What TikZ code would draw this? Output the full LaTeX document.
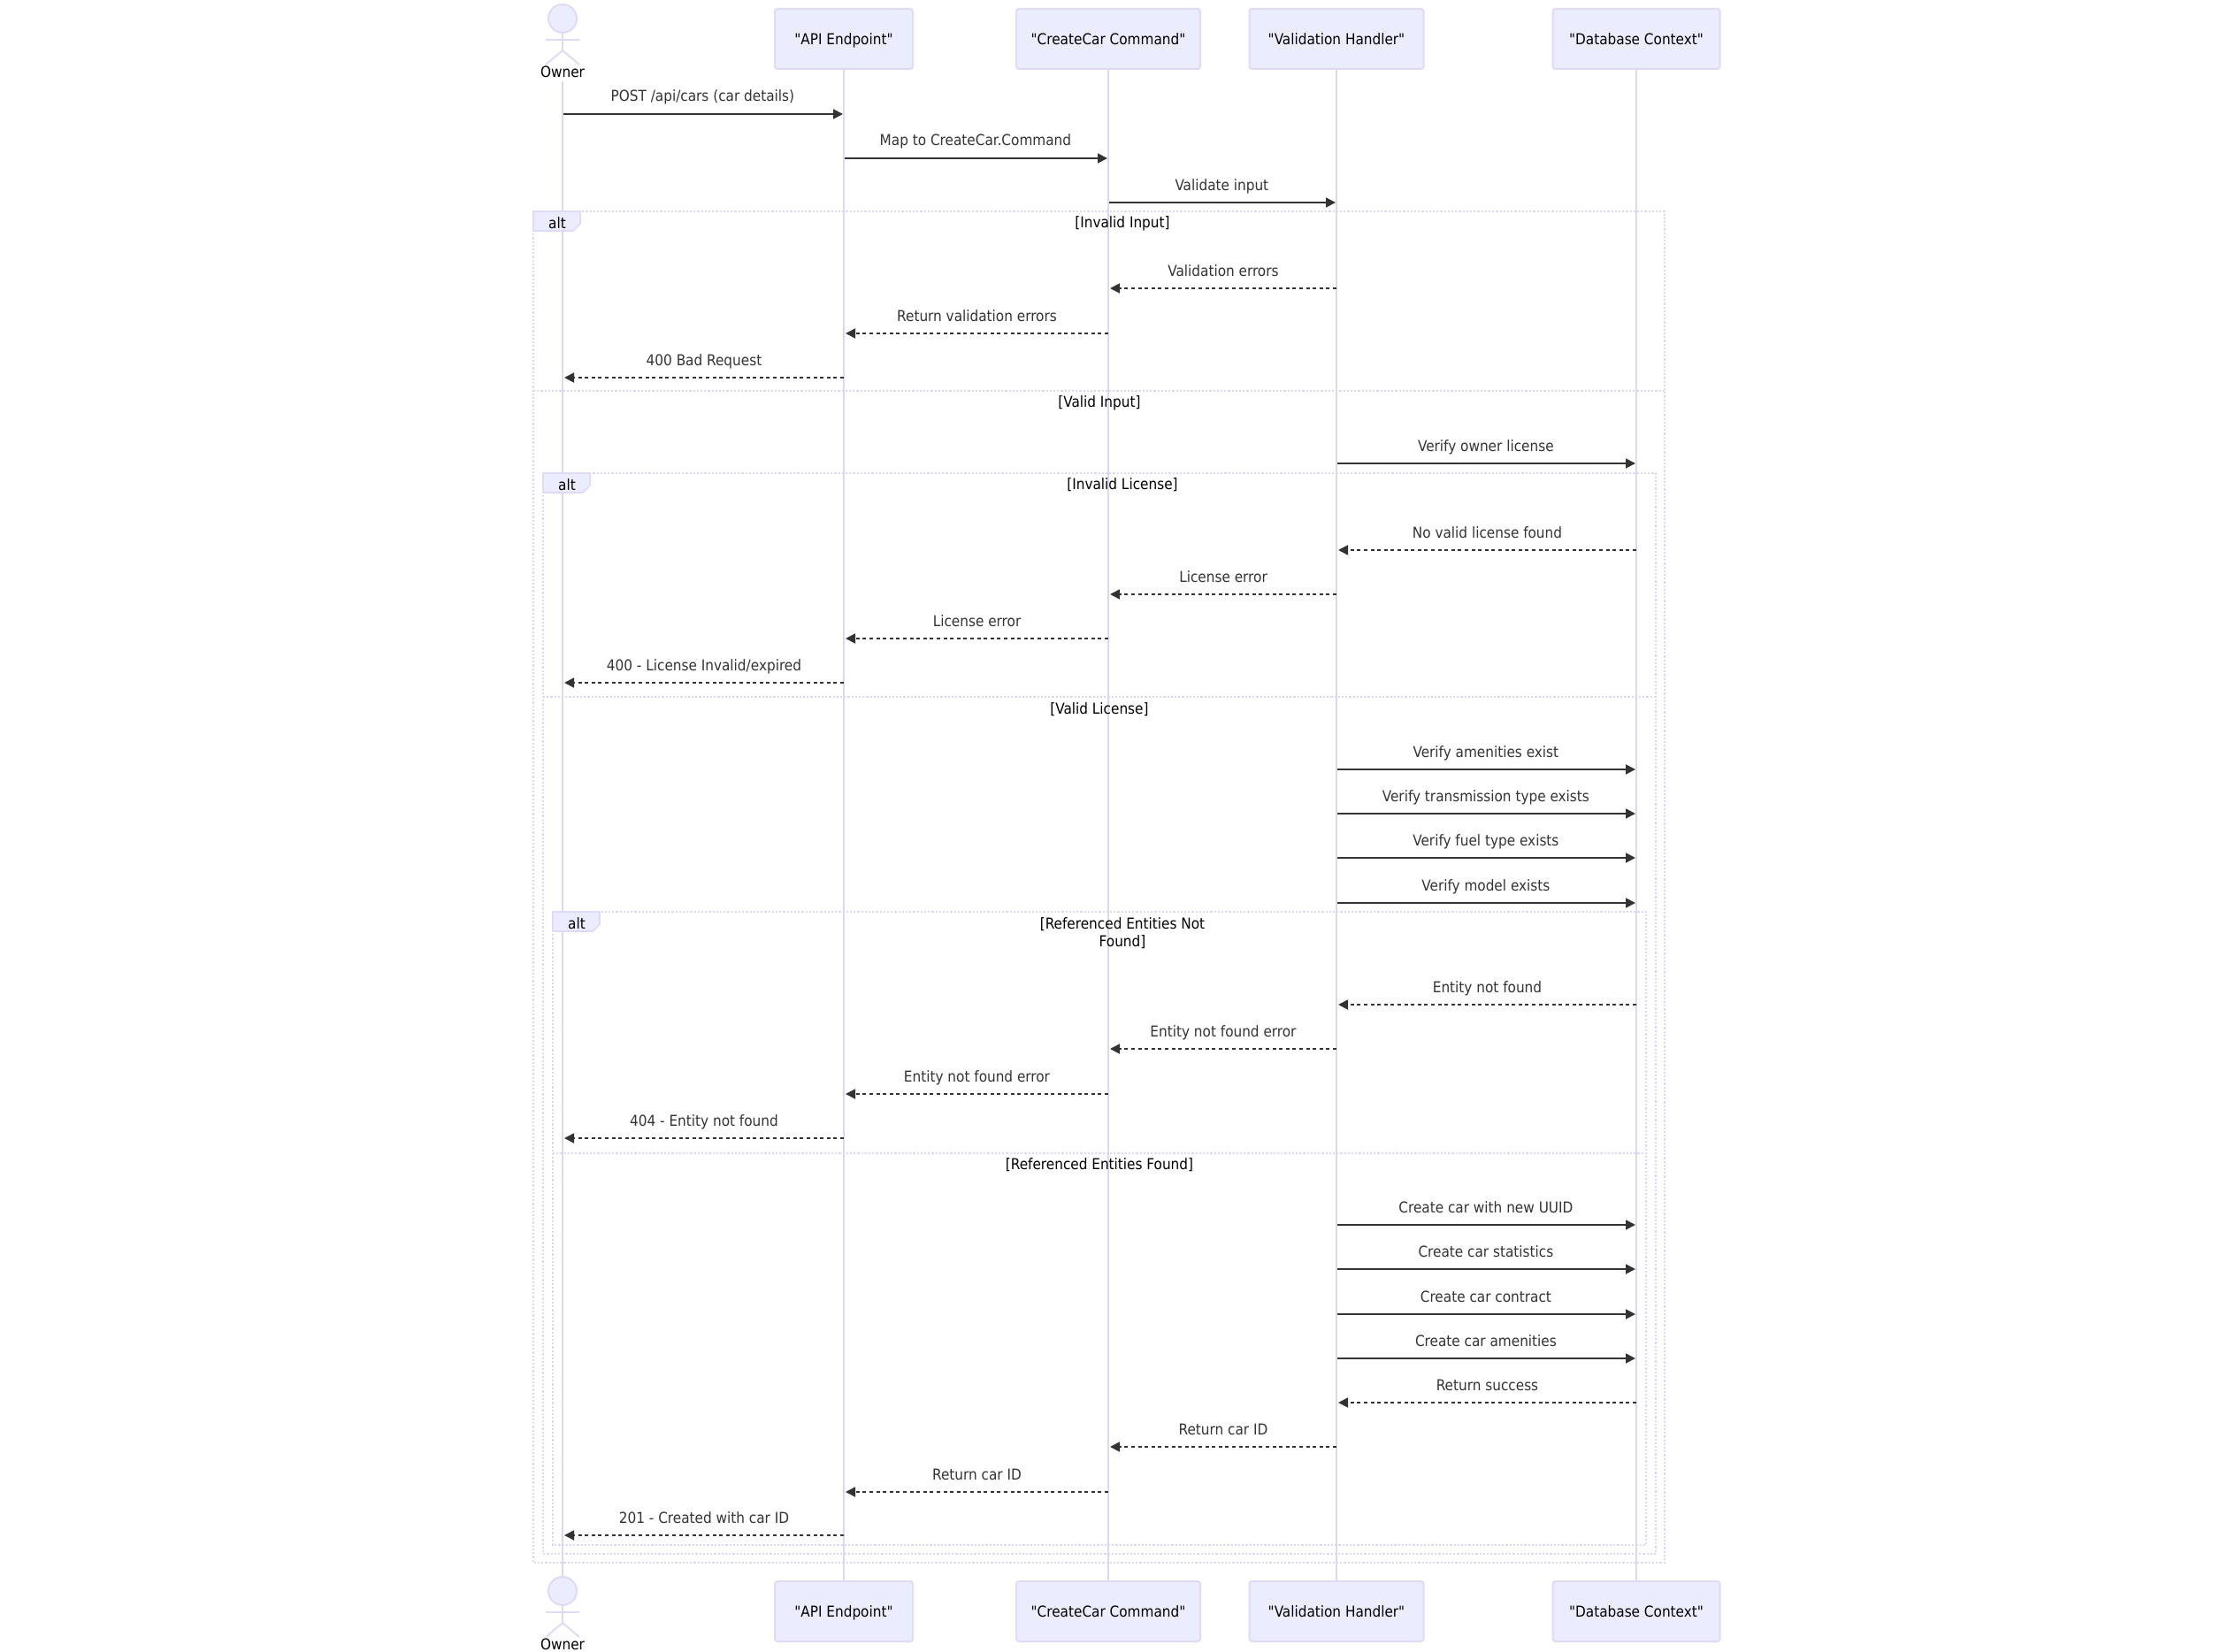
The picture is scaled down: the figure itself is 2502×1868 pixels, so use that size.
\documentclass[tikz,border=0pt]{standalone}
\usepackage{fontspec}
\newfontfamily\diagfont{DejaVu Sans Condensed}
\usetikzlibrary{arrows.meta}
\definecolor{boxfill}{HTML}{ECECFF}
\definecolor{boxline}{HTML}{E0DAF7}
\definecolor{lifecol}{HTML}{DDD7F6}
\definecolor{msgcol}{HTML}{333333}
\tikzset{
  actorbox/.style={draw=boxline,fill=boxfill,line width=1pt,rounded corners=1.5pt,minimum height=34pt,inner sep=0pt,text height=7.2pt,text depth=.9pt,font=\diagfont\fontsize{8.5pt}{10pt}\selectfont},
  lifeline/.style={draw=lifecol,line width=1pt},
  stick/.style={draw=boxline,line width=1pt},
  msg/.style={draw=msgcol,line width=.9pt,-{Triangle[length=5.5pt,width=5.5pt]},shorten >=.5pt,shorten <=.5pt},
  ret/.style={msg,dash pattern=on 2pt off 1.8pt,shorten >=1pt,shorten <=0pt},
  lbl/.style={midway,yshift=9.4pt,xshift=-.3pt,text=msgcol,inner sep=0pt,text height=6.3pt,text depth=1.5pt,font=\diagfont\fontsize{8.5pt}{10pt}\selectfont},
  retlbl/.style={lbl,xshift=.8pt},
  frame/.style={draw=lifecol,line width=1.2pt,dash pattern=on 1.1pt off 1pt},
  tab/.style={draw=boxline,fill=boxfill,line width=.8pt},
  alttext/.style={inner sep=0pt,font=\diagfont\fontsize{8.5pt}{10pt}\selectfont},
  cond/.style={inner sep=0pt,align=center,font=\diagfont\fontsize{8.5pt}{10pt}\selectfont}
}
\begin{document}
\begin{tikzpicture}[x=.5pt,y=-.5pt]
\useasboundingbox (0, 0) rectangle (2502, 1868);

% top row
\node [circle,stick,fill=boxfill,minimum size=16pt,inner sep=0pt] (owner) at (636, 21) {};
\node [alttext] (ownertext) at (636, 81) {Owner};
\node [actorbox,minimum width=78pt] (api) at (954, 44) {"API Endpoint"};
\node [actorbox,minimum width=104pt] (cmd) at (1253, 44) {"CreateCar Command"};
\node [actorbox,minimum width=98.5pt] (val) at (1511, 44) {"Validation Handler"};
\node [actorbox,minimum width=94.5pt] (db) at (1850, 44) {"Database Context"};

% bottom row
\node [circle,stick,fill=boxfill,minimum size=16pt,inner sep=0pt] (ownerb) at (636, 1799) {};
\node [alttext] (ownertextb) at (636, 1859) {Owner};
\node [actorbox,minimum width=78pt] (apib) at (954, 1822) {"API Endpoint"};
\node [actorbox,minimum width=104pt] (cmdb) at (1253, 1822) {"CreateCar Command"};
\node [actorbox,minimum width=98.5pt] (valb) at (1511, 1822) {"Validation Handler"};
\node [actorbox,minimum width=94.5pt] (dbb) at (1850, 1822) {"Database Context"};

% stick figures
\draw [stick] (617, 45) -- (655, 45);
\draw [stick] (636, 37) -- (636, 57);
\draw [stick] (617, 73) -- (636, 57) -- (655, 73);
\draw [stick] (617, 1823) -- (655, 1823);
\draw [stick] (636, 1815) -- (636, 1835);
\draw [stick] (617, 1851) -- (636, 1835) -- (655, 1851);

% lifelines
\draw [lifeline] ([yshift=-2pt]ownertext.south) -- (ownerb.north);
\draw [lifeline] (api.south) -- (apib.north);
\draw [lifeline] (cmd.south) -- (cmdb.north);
\draw [lifeline] (val.south) -- (valb.north);
\draw [lifeline] (db.south) -- (dbb.north);

% frames
\draw [frame] (603, 239) rectangle (1882, 1767);
\draw [frame] (603, 442) -- (1882, 442);
\draw [frame] (614, 535) rectangle (1872, 1757);
\draw [frame] (614, 788) -- (1872, 788);
\draw [frame] (625, 1031) rectangle (1861, 1747);
\draw [frame] (625, 1304) -- (1861, 1304);

\draw [tab] (603, 239) -- (656, 239) -- (656, 253) -- (648, 261) -- (603, 261) -- cycle;
\draw [tab] (614, 535) -- (667, 535) -- (667, 549) -- (659, 557) -- (614, 557) -- cycle;
\draw [tab] (625, 1031) -- (678, 1031) -- (678, 1045) -- (670, 1053) -- (625, 1053) -- cycle;
\node [alttext] (alta) at (630, 252) {alt};
\node [alttext] (altb) at (641, 548) {alt};
\node [alttext] (altc) at (652, 1044) {alt};

\node [cond] (c1) at (1269, 253) {[Invalid Input]};
\node [cond] (c2) at (1243, 456) {[Valid Input]};
\node [cond] (c3) at (1269, 548) {[Invalid License]};
\node [cond] (c4) at (1243, 802) {[Valid License]};
\node [cond] (c5) at (1269, 1055) {[Referenced Entities Not\\Found]};
\node [cond] (c6) at (1243, 1317) {[Referenced Entities Found]};

% messages
\draw [msg] (owner |- 0,129) -- node [lbl] (m1) {POST /api/cars (car details)} (api |- 0,129);
\draw [msg] (api |- 0,179) -- node [lbl] (m2) {Map to CreateCar.Command} (cmd |- 0,179);
\draw [msg] (cmd |- 0,229) -- node [lbl] (m3) {Validate input} (val |- 0,229);

\draw [ret] (val |- 0,326) -- node [retlbl] (m4) {Validation errors} (cmd |- 0,326);
\draw [ret] (cmd |- 0,377) -- node [retlbl] (m5) {Return validation errors} (api |- 0,377);
\draw [ret] (api |- 0,427) -- node [retlbl] (m6) {400 Bad Request} (owner |- 0,427);

\draw [msg] (val |- 0,524) -- node [lbl] (m7) {Verify owner license} (db |- 0,524);

\draw [ret] (db |- 0,622) -- node [retlbl] (m8) {No valid license found} (val |- 0,622);
\draw [ret] (val |- 0,672) -- node [retlbl] (m9) {License error} (cmd |- 0,672);
\draw [ret] (cmd |- 0,722) -- node [retlbl] (m10) {License error} (api |- 0,722);
\draw [ret] (api |- 0,772) -- node [retlbl] (m11) {400 - License Invalid/expired} (owner |- 0,772);

\draw [msg] (val |- 0,870) -- node [lbl] (m12) {Verify amenities exist} (db |- 0,870);
\draw [msg] (val |- 0,920) -- node [lbl] (m13) {Verify transmission type exists} (db |- 0,920);
\draw [msg] (val |- 0,970) -- node [lbl] (m14) {Verify fuel type exists} (db |- 0,970);
\draw [msg] (val |- 0,1021) -- node [lbl] (m15) {Verify model exists} (db |- 0,1021);

\draw [ret] (db |- 0,1136) -- node [retlbl] (m16) {Entity not found} (val |- 0,1136);
\draw [ret] (val |- 0,1186) -- node [retlbl] (m17) {Entity not found error} (cmd |- 0,1186);
\draw [ret] (cmd |- 0,1237) -- node [retlbl] (m18) {Entity not found error} (api |- 0,1237);
\draw [ret] (api |- 0,1287) -- node [retlbl] (m19) {404 - Entity not found} (owner |- 0,1287);

\draw [msg] (val |- 0,1385) -- node [lbl] (m20) {Create car with new UUID} (db |- 0,1385);
\draw [msg] (val |- 0,1435) -- node [lbl] (m21) {Create car statistics} (db |- 0,1435);
\draw [msg] (val |- 0,1486) -- node [lbl] (m22) {Create car contract} (db |- 0,1486);
\draw [msg] (val |- 0,1536) -- node [lbl] (m23) {Create car amenities} (db |- 0,1536);
\draw [ret] (db |- 0,1586) -- node [retlbl] (m24) {Return success} (val |- 0,1586);
\draw [ret] (val |- 0,1636) -- node [retlbl] (m25) {Return car ID} (cmd |- 0,1636);
\draw [ret] (cmd |- 0,1687) -- node [retlbl] (m26) {Return car ID} (api |- 0,1687);
\draw [ret] (api |- 0,1736) -- node [retlbl] (m27) {201 - Created with car ID} (owner |- 0,1736);
\end{tikzpicture}
\end{document}
